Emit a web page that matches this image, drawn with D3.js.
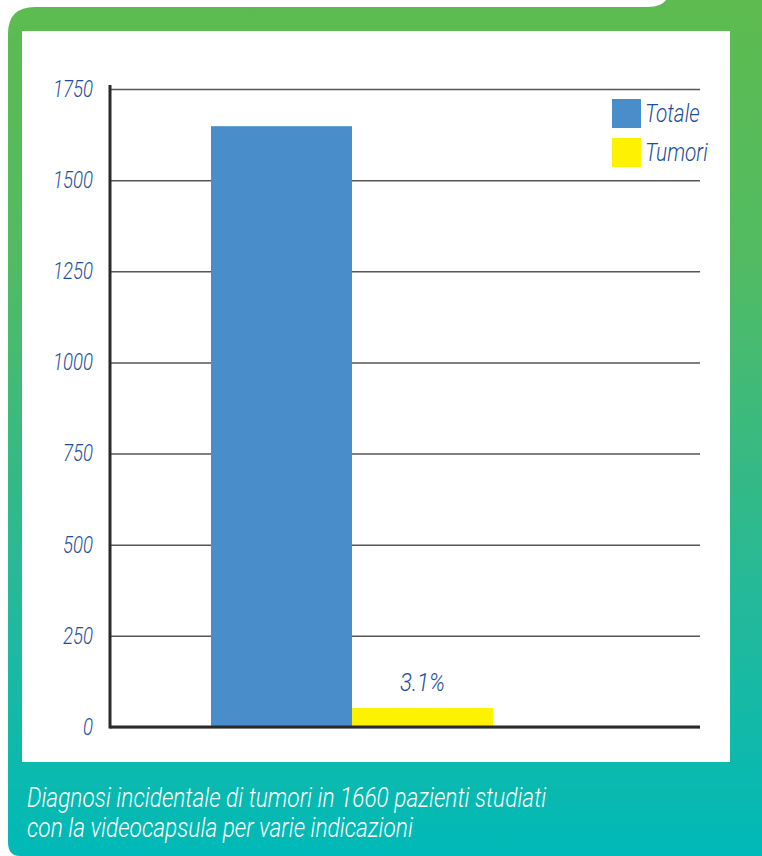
<!DOCTYPE html>
<html>
<head>
<meta charset="utf-8">
<script src="https://cdn.jsdelivr.net/npm/d3@7"></script>
<style>
  html, body { margin: 0; padding: 0; background: #fff; }
  svg { display: block; }
  text { font-family: Roboto, "DejaVu Sans", sans-serif; font-style: italic; font-weight: 300; }
</style>
</head>
<body>
<div id="chart"></div>
<script>
// data
const categories = ["Totale", "Tumori"];
const values = [1648, 52];
const barLabels = ["", "3.1%"];
const yTicks = [0, 250, 500, 750, 1000, 1250, 1500, 1750];
const caption = ["Diagnosi incidentale di tumori in 1660 pazienti studiati",
                 "con la videocapsula per varie indicazioni"];

const W = 762, H = 856;
const margin = {top: 89, left: 110, right: 62, bottom: 129};
const width = W - margin.left - margin.right;
const height = H - margin.top - margin.bottom;
const barColors = ["#4a8dcb", "#fff200"];
const textBlue = "#1b4d9a";

// squeeze text horizontally to look like the condensed font of the original
function condense(sel, k) {
    sel.each(function() {
        const len = this.getComputedTextLength();
        if (len > 0) {
            d3.select(this)
                .attr("textLength", len * k)
                .attr("lengthAdjust", "spacingAndGlyphs");
        }
    });
}

const svg = d3.select("#chart").append("svg")
    .attr("width", W)
    .attr("height", H);

// background frame with gradient
const grad = svg.append("defs").append("linearGradient")
    .attr("id", "frameGrad")
    .attr("x1", 0).attr("y1", 0).attr("x2", 0).attr("y2", 1);
grad.append("stop").attr("offset", "0").attr("stop-color", "#5dbb50");
grad.append("stop").attr("offset", "0.3").attr("stop-color", "#52bb62");
grad.append("stop").attr("offset", "0.7").attr("stop-color", "#24b99a");
grad.append("stop").attr("offset", "1").attr("stop-color", "#00b9b8");

svg.append("path")
    .attr("d", "M8,34 Q8,7 35,7 L648,7 Q661,7 666,0 L762,0 L762,856 L20,856 Q8,856 8,842 Z")
    .attr("fill", "url(#frameGrad)");

svg.append("rect")
    .attr("x", 22).attr("y", 31)
    .attr("width", 708).attr("height", 731)
    .attr("fill", "#fff");

const g = svg.append("g")
    .attr("transform", "translate(" + margin.left + "," + margin.top + ")");

const x = d3.scaleBand()
    .domain(categories)
    .range([101, 383])
    .padding(0);

const y = d3.scaleLinear()
    .domain([0, 1750])
    .range([height, 0]);

// gridlines + tick labels
const yAxis = g.append("g")
    .call(d3.axisLeft(y).tickValues(yTicks).tickSizeInner(-width).tickSizeOuter(0).tickPadding(17)
        .tickFormat(d3.format("d")));
yAxis.select(".domain").remove();
yAxis.selectAll(".tick line")
    .attr("stroke", "#555")
    .attr("stroke-width", 1.5);
yAxis.selectAll(".tick text")
    .attr("fill", textBlue)
    .style("font-size", "23px")
    .call(condense, 0.81);

// bars
g.selectAll(".bar")
    .data(values)
    .enter().append("rect")
    .attr("class", "bar")
    .attr("x", (d, i) => x(categories[i]))
    .attr("y", d => y(d))
    .attr("width", x.bandwidth())
    .attr("height", d => height - y(d))
    .attr("fill", (d, i) => barColors[i]);

g.selectAll(".bar-label")
    .data(values)
    .enter().append("text")
    .attr("class", "bar-label")
    .attr("x", (d, i) => x(categories[i]) + x.bandwidth() / 2)
    .attr("y", d => y(d) - 17)
    .attr("text-anchor", "middle")
    .attr("fill", textBlue)
    .style("font-size", "25px")
    .text((d, i) => barLabels[i])
    .call(condense, 0.89);

// axis lines
g.append("line")
    .attr("x1", 0).attr("x2", 0)
    .attr("y1", -4).attr("y2", height + 1.5)
    .attr("stroke", "#2a2a2a")
    .attr("stroke-width", 3);
g.append("line")
    .attr("x1", 0).attr("x2", width)
    .attr("y1", height).attr("y2", height)
    .attr("stroke", "#2a2a2a")
    .attr("stroke-width", 3);

// legend
const legend = g.selectAll(".legend")
    .data(categories)
    .enter().append("g")
    .attr("class", "legend")
    .attr("transform", (d, i) => "translate(502," + (10 + i * 39) + ")");
legend.append("rect")
    .attr("width", 29).attr("height", 29)
    .attr("fill", (d, i) => barColors[i]);
legend.append("text")
    .attr("x", 33).attr("y", 23)
    .attr("fill", textBlue)
    .style("font-size", "26px")
    .text(d => d)
    .call(condense, 0.8);

// caption
svg.append("g").selectAll("text")
    .data(caption)
    .enter().append("text")
    .attr("x", 27)
    .attr("y", (d, i) => 807 + i * 30)
    .attr("fill", "#fff")
    .style("font-size", "27px")
    .text(d => d)
    .call(condense, 0.84);
</script>
</body>
</html>
